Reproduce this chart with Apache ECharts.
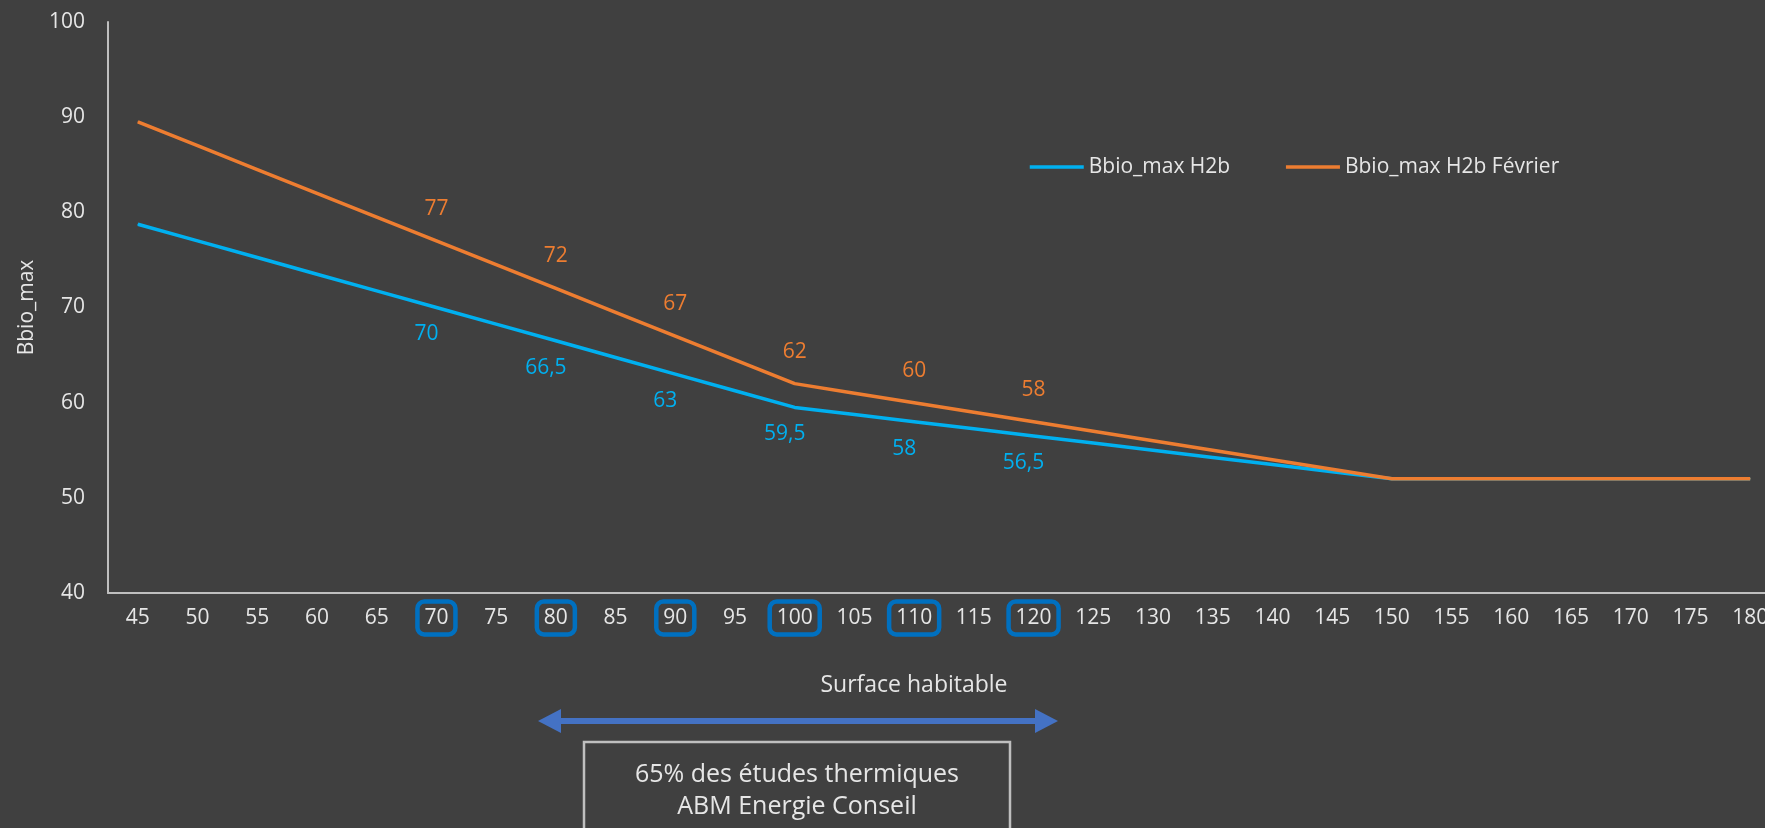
<!DOCTYPE html>
<html>
<head>
<meta charset="utf-8">
<script src="https://cdn.jsdelivr.net/npm/echarts@6/dist/echarts.min.js"></script>
<style>
  html, body { margin: 0; padding: 0; background: #404040; }
  #chart { width: 1765px; height: 828px; }
</style>
</head>
<body>
<div id="chart"></div>
<script>
// ---- Data ----
const surfaces = [45, 50, 55, 60, 65, 70, 75, 80, 85, 90, 95, 100, 105, 110, 115, 120, 125, 130, 135, 140, 145, 150, 155, 160, 165, 170, 175, 180];
const bbioMaxH2b = [78.75, 77, 75.25, 73.5, 71.75, 70, 68.25, 66.5, 64.75, 63, 61.25, 59.5, 58.75, 58, 57.25, 56.5, 55.75, 55, 54.25, 53.5, 52.75, 52, 52, 52, 52, 52, 52, 52];
const bbioMaxH2bFevrier = [89.5, 87, 84.5, 82, 79.5, 77, 74.5, 72, 69.5, 67, 64.5, 62, 61, 60, 59, 58, 57, 56, 55, 54, 53, 52, 52, 52, 52, 52, 52, 52];
const labelledSurfaces = [70, 80, 90, 100, 110, 120];
const seriesNames = ['Bbio_max H2b', 'Bbio_max H2b Février'];
const yMin = 40, yMax = 100, yInterval = 10;

// ---- Chart ----
const FONT = 'Open Sans';
const TXT = '#E6E6E6';
const BLUE = '#00B0F0';
const ORANGE = '#ED7D31';
const chart = echarts.init(document.getElementById('chart'), null, { renderer: 'canvas' });

const fmtValue = v => String(v).replace('.', ',');
const labelFormatter = p => labelledSurfaces.includes(Number(p.name)) ? fmtValue(p.value) : '';

chart.setOption({
  backgroundColor: '#404040',
  animation: false,
  textStyle: { fontFamily: FONT },
  grid: { left: 108, top: 22, bottom: 235, right: -15, containLabel: false, outerBoundsMode: 'none' },
  legend: {
    left: 1023, top: 148,
    itemWidth: 54, itemHeight: 14, itemGap: 54,
    data: seriesNames,
    itemStyle: { opacity: 0 },
    lineStyle: { width: 3.5 },
    textStyle: { color: TXT, fontFamily: FONT, fontSize: 21, lineHeight: 28 }
  },
  xAxis: {
    type: 'category',
    data: surfaces,
    boundaryGap: true,
    axisLine: { show: true, lineStyle: { color: '#BFBFBF', width: 2 } },
    axisTick: { show: false },
    axisLabel: {
      interval: 0,
      margin: 12,
      color: TXT,
      fontFamily: FONT,
      fontSize: 21,
      formatter: v => labelledSurfaces.includes(Number(v)) ? '{b|' + v + '}' : '{n|' + v + '}',
      rich: {
        n: { color: TXT, fontFamily: FONT, fontSize: 21, lineHeight: 26, padding: [6, 7], borderWidth: 4.5, borderColor: 'transparent', borderRadius: 7 },
        b: { color: TXT, fontFamily: FONT, fontSize: 21, lineHeight: 26, padding: [6, 7], borderWidth: 4.5, borderColor: '#0070C0', borderRadius: 7 }
      }
    },
    splitLine: { show: false }
  },
  yAxis: {
    type: 'value',
    min: yMin, max: yMax, interval: yInterval,
    name: 'Bbio_max',
    nameLocation: 'middle',
    nameGap: 70,
    nameRotate: 90,
    nameTextStyle: { color: TXT, fontFamily: FONT, fontSize: 21 },
    axisLine: { show: true, lineStyle: { color: '#BFBFBF', width: 2 } },
    axisTick: { show: false },
    splitLine: { show: false },
    axisLabel: { color: TXT, fontFamily: FONT, fontSize: 21, margin: 23 }
  },
  series: [
    {
      name: seriesNames[0],
      type: 'line',
      data: bbioMaxH2b,
      symbol: 'circle',
      symbolSize: 1,
      showSymbol: true,
      lineStyle: { color: BLUE, width: 3.5 },
      itemStyle: { color: BLUE },
      label: { show: true, position: 'inside', offset: [-10, 27], color: BLUE, fontFamily: FONT, fontSize: 21, formatter: labelFormatter },
      z: 2
    },
    {
      name: seriesNames[1],
      type: 'line',
      data: bbioMaxH2bFevrier,
      symbol: 'circle',
      symbolSize: 1,
      showSymbol: true,
      lineStyle: { color: ORANGE, width: 3.5 },
      itemStyle: { color: ORANGE },
      label: { show: true, position: 'inside', offset: [0, -32], color: ORANGE, fontFamily: FONT, fontSize: 21, formatter: labelFormatter },
      z: 3
    }
  ],
  graphic: [
    { type: 'text', x: 914, y: 685, style: { text: 'Surface habitable', fill: TXT, font: '23px "Open Sans"', align: 'center', verticalAlign: 'middle' } },
    { type: 'line', shape: { x1: 556, y1: 721, x2: 1040, y2: 721 }, style: { stroke: '#4472C4', lineWidth: 6 } },
    { type: 'polygon', shape: { points: [[538, 721], [561, 709], [561, 733]] }, style: { fill: '#4472C4' } },
    { type: 'polygon', shape: { points: [[1058, 721], [1035, 709], [1035, 733]] }, style: { fill: '#4472C4' } },
    { type: 'rect', shape: { x: 584, y: 742, width: 426, height: 110 }, style: { fill: 'transparent', stroke: '#BFBFBF', lineWidth: 2.5 } },
    { type: 'text', x: 797, y: 775, style: { text: '65% des études thermiques', fill: TXT, font: '25px "Open Sans"', align: 'center', verticalAlign: 'middle' } },
    { type: 'text', x: 797, y: 807, style: { text: 'ABM Energie Conseil', fill: TXT, font: '25px "Open Sans"', align: 'center', verticalAlign: 'middle' } }
  ]
});
</script>
</body>
</html>
